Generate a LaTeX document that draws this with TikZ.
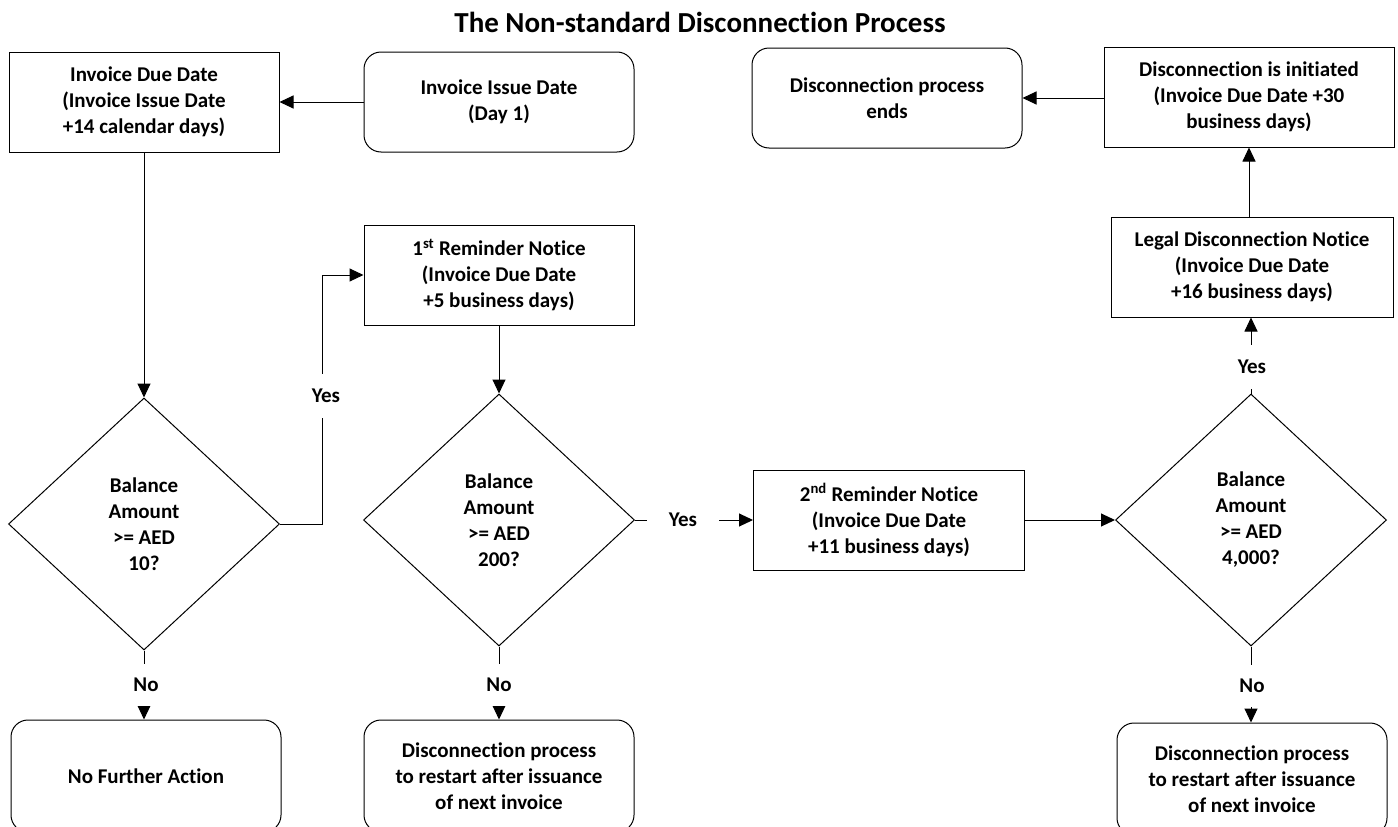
\documentclass[tikz,border=0pt]{standalone}
\usepackage{fontspec}
\setmainfont{Carlito}[RawFeature={-liga;-clig;-calt;-dlig}]
\usetikzlibrary{shapes.geometric,arrows.meta}
\begin{document}
\begin{tikzpicture}[x=1pt,y=-1pt,
  every node/.style={font=\fontsize{21}{26}\selectfont\bfseries, align=center},
  box/.style={draw, line width=1pt, minimum width=270pt, minimum height=100pt, inner sep=0pt},
  rbox/.style={box, rounded corners=17pt},
  decision/.style={draw, diamond, line width=1pt, minimum width=271pt, minimum height=252pt, inner sep=0pt},
  lbl/.style={fill=white, inner sep=2pt},
  arr/.style={line width=1pt, -{Triangle[length=14pt,width=13pt]}},
  ln/.style={line width=1pt}]
\useasboundingbox (0,0) rectangle (1398,827);

\node (title) at (700,22) {\fontsize{29}{34}\selectfont The Non-standard Disconnection Process};

\node[box] (A) at (144,102) {Invoice Due Date\\(Invoice Issue Date\\+14 calendar days)};
\node[rbox] (B) at (499,102) {Invoice Issue Date\\(Day 1)};
\node[rbox] (C) at (887,98) {Disconnection process\\ends};
\node[box, minimum width=290pt] (D) at (1249,97) {Disconnection is initiated\\(Invoice Due Date +30\\business days)};
\node[box] (E) at (499,275) {1\textsuperscript{st} Reminder Notice\\(Invoice Due Date\\+5 business days)};
\node[box, minimum width=282pt] (F) at (1252,267) {Legal Disconnection Notice\\(Invoice Due Date\\+16 business days)};
\node[box, minimum width=271pt] (G) at (889,520) {2\textsuperscript{nd} Reminder Notice\\(Invoice Due Date\\+11 business days)};

\node[decision] (d1) at (144,524) {Balance\\Amount\\ >= AED\\10?};
\node[decision] (d2) at (499,520) {Balance\\Amount\\ >= AED\\200?};
\node[decision] (d3) at (1251,520) {Balance\\Amount\\ >= AED\\4,000?};

\node[rbox, minimum height=112pt] (H1) at (146,776) {No Further Action};
\node[rbox, minimum height=112pt] (H2) at (499,776) {Disconnection process\\to restart after issuance\\of next invoice};
\node[rbox, minimum height=112pt] (H3) at (1252,779) {Disconnection process\\to restart after issuance\\of next invoice};

% connectors
\draw[arr] (B) -- (A);
\draw[arr] (D.west |- C.east) -- (C.east);
\draw[arr] (A.south) -- (A.south |- d1.north);
\draw[arr] (d1.east) -| (322,275) -- (E.west |- 322,275);
\node[lbl, minimum height=44pt] (y1) at (326,396) {Yes};
\draw[arr] (E.south) -- (d2.north);
\draw[arr] (d2.east) -- (G.west);
\node[lbl, minimum width=72pt] (y2) at (683,520) {Yes};
\draw[arr] (G.east) -- (d3.west);
\draw[arr] (d3.north) -- (d3.north |- F.south);
\node[lbl, minimum height=44pt] (y3) at (1252,367) {Yes};
\draw[arr] (D.south |- F.north) -- (D.south);
\draw[arr] (d1.south) -- (d1.south |- H1.north);
\node[lbl, minimum height=42pt] (n1) at (146,685) {No};
\draw[arr] (d2.south) -- (d2.south |- H2.north);
\node[lbl, minimum height=42pt] (n2) at (499,685) {No};
\draw[arr] (d3.south) -- (d3.south |- H3.north);
\node[lbl, minimum height=42pt] (n3) at (1252,686) {No};
\end{tikzpicture}
\end{document}
